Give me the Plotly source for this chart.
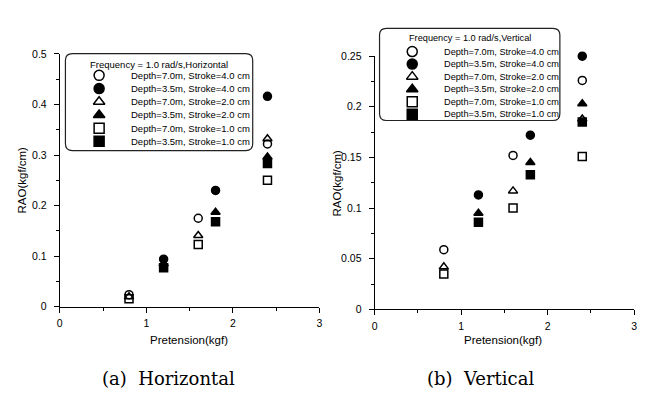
import plotly.graph_objects as go

W, H = 659, 403

# ---------------- data ----------------
pretension_d70 = [0.8, 1.6, 2.4]
pretension_d35 = [1.2, 1.8, 2.4]

series_names = [
    "Depth=7.0m, Stroke=4.0 cm",
    "Depth=3.5m, Stroke=4.0 cm",
    "Depth=7.0m, Stroke=2.0 cm",
    "Depth=3.5m, Stroke=2.0 cm",
    "Depth=7.0m, Stroke=1.0 cm",
    "Depth=3.5m, Stroke=1.0 cm",
]

# Horizontal RAO (kgf/cm)
h_d70_s40 = [0.024, 0.175, 0.322]
h_d35_s40 = [0.094, 0.230, 0.416]
h_d70_s20 = [0.020, 0.141, 0.332]
h_d35_s20 = [0.085, 0.187, 0.296]
h_d70_s10 = [0.016, 0.123, 0.250]
h_d35_s10 = [0.077, 0.168, 0.283]

# Vertical RAO (kgf/cm)
v_d70_s40 = [0.059, 0.152, 0.226]
v_d35_s40 = [0.113, 0.172, 0.250]
v_d70_s20 = [0.042, 0.117, 0.188]
v_d35_s20 = [0.095, 0.145, 0.203]
v_d70_s10 = [0.035, 0.100, 0.151]
v_d35_s10 = [0.086, 0.133, 0.185]

horizontal = [h_d70_s40, h_d35_s40, h_d70_s20, h_d35_s20, h_d70_s10, h_d35_s10]
vertical = [v_d70_s40, v_d35_s40, v_d70_s20, v_d35_s20, v_d70_s10, v_d35_s10]
xs = [pretension_d70, pretension_d35] * 3

symbols = ["circle-open", "circle", "triangle-up-open", "triangle-up",
           "square-open", "square"]

# ---------------- figure ----------------
fig = go.Figure()
FONT = "Liberation Sans, Arial, sans-serif"

for i in range(6):
    fig.add_trace(go.Scatter(
        x=xs[i], y=horizontal[i], mode="markers", name=series_names[i],
        xaxis="x", yaxis="y", showlegend=False, cliponaxis=False,
        marker=dict(symbol=symbols[i], size=8, color="black",
                    line=dict(color="black", width=1.5))))
    fig.add_trace(go.Scatter(
        x=xs[i], y=vertical[i], mode="markers", name=series_names[i],
        xaxis="x2", yaxis="y2", showlegend=False, cliponaxis=False,
        marker=dict(symbol=symbols[i], size=8, color="black",
                    line=dict(color="black", width=1.5))))

# ---- manual legends (drawn on a pixel overlay axis) ----
def rounded_rect(x0, y0, x1, y1, r):
    return (f"M{x0+r},{y0} L{x1-r},{y0} Q{x1},{y0} {x1},{y0+r} "
            f"L{x1},{y1-r} Q{x1},{y1} {x1-r},{y1} L{x0+r},{y1} "
            f"Q{x0},{y1} {x0},{y1-r} L{x0},{y0+r} Q{x0},{y0} {x0+r},{y0} Z")

legends = [
    dict(box=(63, 49, 252, 149), title="Frequency = 1.0 rad/s,Horizontal",
         title_y=60, mx=97, tx=127, row0=71.5, step=13.6, fs=9.5),
    dict(box=(380, 23, 562, 118), title="Frequency = 1.0 rad/s,Vertical",
         title_y=33, mx=413, tx=443, row0=47, step=12.9, fs=9.2),
]
shapes = []
annotations = []
for lg in legends:
    x0, y0, x1, y1 = lg["box"]
    shapes.append(dict(type="path", xref="x3", yref="y3",
                       path=rounded_rect(x0, y0, x1, y1, 7),
                       line=dict(color="#222", width=1.2),
                       fillcolor="white", layer="below"))
    annotations.append(dict(xref="x3", yref="y3", x=(x0 + x1) / 2,
                            y=lg["title_y"], text=lg["title"], showarrow=False,
                            xanchor="center", yanchor="middle",
                            font=dict(family=FONT, size=lg["fs"], color="black")))
    rows = [lg["row0"] + k * lg["step"] for k in range(6)]
    fig.add_trace(go.Scatter(
        x=[lg["mx"]] * 6, y=rows, mode="markers", xaxis="x3", yaxis="y3",
        showlegend=False, cliponaxis=False, hoverinfo="skip",
        marker=dict(symbol=symbols, size=10, color="black",
                    line=dict(color="black", width=1.5))))
    for k in range(6):
        annotations.append(dict(xref="x3", yref="y3", x=lg["tx"], y=rows[k],
                                text=series_names[k], showarrow=False,
                                xanchor="left", yanchor="middle",
                                font=dict(family=FONT, size=lg["fs"], color="black")))

# axis titles & captions (pixel positions)
for (x, y, t, ang) in [(19, 179, "RAO(kgf/cm)", -90), (337, 182, "RAO(kgf/cm)", -90),
                       (188, 344, "Pretension(kgf)", 0), (505, 344, "Pretension(kgf)", 0)]:
    annotations.append(dict(xref="x3", yref="y3", x=x, y=y, text=t, textangle=ang,
                            showarrow=False, xanchor="center", yanchor="middle",
                            font=dict(family=FONT, size=11.5, color="black")))
for (x, t) in [(167, "(a)  Horizontal"), (482, "(b)  Vertical")]:
    annotations.append(dict(xref="x3", yref="y3", x=x, y=384, text=t,
                            showarrow=False, xanchor="center", yanchor="middle",
                            font=dict(family="DejaVu Serif, serif", size=18,
                                      color="black")))

xcommon = dict(range=[0, 3], dtick=1, tick0=0, showgrid=False, zeroline=False,
               showline=True, linecolor="black", linewidth=1, ticks="outside",
               ticklen=5, tickwidth=1, tickcolor="black",
               minor=dict(dtick=0.5, ticks="outside", ticklen=3,
                          tickcolor="black", showgrid=False),
               tickfont=dict(family=FONT, size=10.5, color="black"),
               ticklabelstandoff=2, fixedrange=True)
ycommon = dict(showgrid=False, zeroline=False, showline=True, linecolor="black",
               linewidth=1, ticks="outside", ticklen=5, tickwidth=1,
               tickcolor="black",
               tickfont=dict(family=FONT, size=10.5, color="black"),
               ticklabelstandoff=5, fixedrange=True)

fig.update_layout(
    width=W, height=H, margin=dict(l=0, r=0, t=0, b=0),
    paper_bgcolor="white", plot_bgcolor="rgba(0,0,0,0)",
    showlegend=False,
    xaxis=dict(domain=[57.3 / W, 319.3 / W], anchor="y", **xcommon),
    yaxis=dict(domain=[(H - 310) / H, (H - 49.3) / H], anchor="x",
               range=[0, 0.5], dtick=0.1, tick0=0,
               minor=dict(dtick=0.05, ticks="outside", ticklen=3,
                          tickcolor="black", showgrid=False), **ycommon),
    xaxis2=dict(domain=[375 / W, 637 / W], anchor="y2", **xcommon),
    yaxis2=dict(domain=[(H - 312.7) / H, (H - 51.7) / H], anchor="x2",
                range=[0, 0.25], dtick=0.05, tick0=0,
                minor=dict(dtick=0.025, ticks="outside", ticklen=3,
                           tickcolor="black", showgrid=False), **ycommon),
    xaxis3=dict(domain=[0, 1], range=[0, W], anchor="y3", visible=False,
                fixedrange=True),
    yaxis3=dict(domain=[0, 1], range=[H, 0], anchor="x3", visible=False,
                fixedrange=True),
    shapes=shapes, annotations=annotations,
)

fig.write_html("out.html")
